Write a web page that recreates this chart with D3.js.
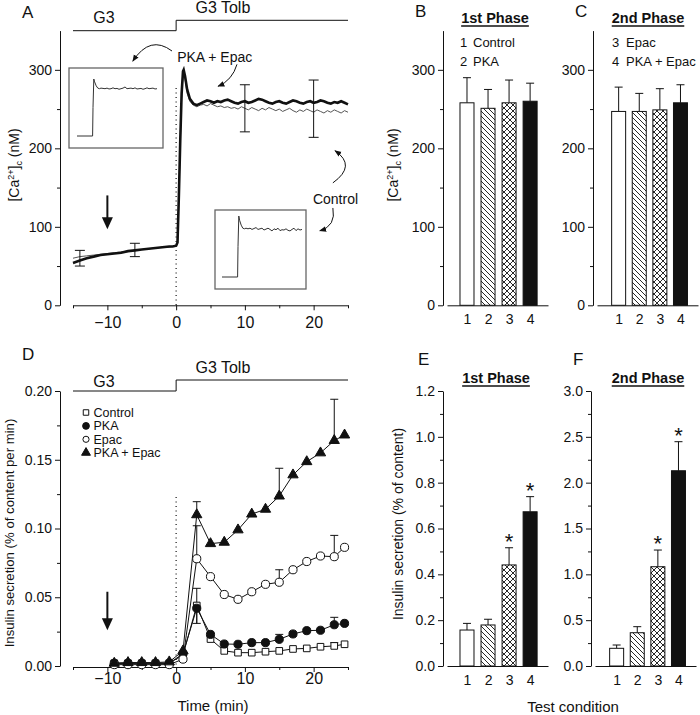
<!DOCTYPE html>
<html><head><meta charset="utf-8">
<script src="https://cdn.jsdelivr.net/npm/d3@7"></script>
<style>body{margin:0;background:#fff}</style>
</head><body><svg id="c" width="700" height="715"></svg>
<script>
// ---------------- DATA ----------------
// Panel A: [Ca2+]c traces (nM) vs time (min)
const caTime = [-15,-14,-13,-12,-11,-10,-9,-8,-7,-6,-5,-4,-3,-2,-1,-0.5,0,0.2,0.4,0.6,0.8,1.0,1.1,1.3,1.6,2.0,2.5,3.0,
  3.5,4,4.5,5,5.5,6,6.5,7,7.5,8,8.5,9,9.5,10,10.5,11,11.5,12,12.5,13,13.5,14,14.5,15,15.5,16,16.5,17,17.5,18,18.5,19,19.5,20,20.5,21,21.5,22,22.5,23,23.5,24,24.5,25];
const caPkaEpac = [54,57,60,62,64,65,66,67,69,70,71,72,73,74,75,75,76,80,140,210,270,298,300,292,275,263,257,255,
  257,259,261,260,258,260,259,261,262,260,258,257,259,260,258,259,261,263,262,260,258,257,259,260,258,257,259,261,260,258,257,259,260,258,259,261,260,258,257,259,258,260,258,256];
const caControl = [60,62,63,64,65,66,67,68,69,70,71,72,73,74,74,75,75,78,135,205,265,292,296,288,270,260,255,253,
  255,256,254,257,255,253,254,252,253,251,252,250,253,251,249,252,250,248,251,249,252,250,248,250,247,249,251,248,246,249,247,250,248,246,249,247,245,248,246,249,247,245,248,246];
const caErrTime = [-14,-6,10,20];
const caErrLow  = [50,62,221,214];
const caErrHigh = [70,79,281,287];

// Insets (normalised trace, arbitrary time units)
const insetTime = [0,1.95,2.0,2.1,2.2,2.4,2.6,2.8,3.0,3.25,3.5,3.75,4,4.25,4.5,4.75,5,5.25,5.5,5.75,6,6.25,6.5,6.75,7,7.25,7.5,7.75,8,8.25,8.5,8.75,9,9.25,9.5,9.75,10];
const insetPkaEpac = [0,0,0.5,1.0,0.95,0.88,0.84,0.83,0.84,0.835,0.83,0.84,0.825,0.83,0.845,0.83,0.835,0.82,0.83,0.84,0.86,0.83,0.835,0.84,0.83,0.845,0.825,0.83,0.835,0.82,0.83,0.845,0.83,0.835,0.84,0.825,0.83];
const insetControl = [0,0,0.5,1.0,0.93,0.85,0.80,0.79,0.80,0.79,0.80,0.78,0.795,0.81,0.78,0.79,0.80,0.77,0.785,0.80,0.78,0.755,0.79,0.775,0.80,0.76,0.775,0.77,0.79,0.765,0.755,0.78,0.80,0.76,0.79,0.77,0.78];

// Panels B, C: [Ca2+]c bars
const barCategories = [1,2,3,4];
const caPhase1 = [258,251,258,260];
const caPhase1ErrTop = [290,275,287,283];
const caPhase2 = [247,247,249,258];
const caPhase2ErrTop = [278,270,276,281];

// Panel D: insulin secretion (% of content per min)
const insTime = [-9,-7,-5,-3,-1,1,3,5,7,9,11,13,15,17,19,21,23,24.5];
const insControl = [0.002,0.002,0.002,0.002,0.002,0.008,0.044,0.0196,0.011,0.0097,0.0097,0.0104,0.011,0.0124,0.0128,0.014,0.0146,0.0158];
const insPKA     = [0.002,0.002,0.002,0.002,0.002,0.009,0.042,0.023,0.016,0.0158,0.017,0.017,0.0194,0.0233,0.0257,0.026,0.030,0.031];
const insEpac    = [0.001,0.001,0.001,0.001,0.001,0.005,0.078,0.065,0.052,0.0485,0.054,0.0594,0.0609,0.070,0.076,0.080,0.0795,0.0863];
const insPkaEpac = [0.002,0.0025,0.0025,0.0025,0.003,0.011,0.110,0.089,0.090,0.099,0.1105,0.114,0.1236,0.139,0.1486,0.155,0.164,0.168];
const insSeriesNames = ["Control","PKA","Epac","PKA + Epac"];
// error bars: [series index, time, low, high]
const insErrors = [[0,3,0.031,0.0565],[0,23,0.0146,0.017],[1,15,0.0194,0.023],[1,23,0.030,0.0354],
  [2,3,0.078,0.102],[2,15,0.0609,0.070],[2,23,0.0795,0.095],[3,3,0.110,0.1195],[3,15,0.1236,0.1438],[3,23,0.164,0.194]];

// Panels E, F: insulin secretion bars (% of content)
const insPhase1 = [0.157,0.179,0.441,0.673];
const insPhase1ErrTop = [0.186,0.204,0.516,0.739];
const insPhase2 = [0.193,0.363,1.083,2.13];
const insPhase2ErrTop = [0.229,0.429,1.265,2.447];
const significant = [false,false,true,true];

// Tick labels
const caTicks = [0,100,200,300], caMinor = [50,150,250];
const timeTicks = [-10,0,10,20], timeMinor = [-15,-5,5,15,25];
const insTicks = [0,0.05,0.10,0.15,0.20], insMinor = [0.025,0.075,0.125,0.175];
const e1Ticks = [0,0.2,0.4,0.6,0.8,1.0,1.2], e1Minor = [0.1,0.3,0.5,0.7,0.9,1.1];
const f1Ticks = [0,0.5,1.0,1.5,2.0,2.5,3.0], f1Minor = [0.25,0.75,1.25,1.75,2.25,2.75];

// ---------------- DRAWING ----------------
const F = '"Liberation Sans", Arial, Helvetica, sans-serif';
const svg = d3.select("#c").style("font-family", F);
const INK = "#111";

const defs = svg.append("defs");
const pd = defs.append("pattern").attr("id","diag").attr("patternUnits","userSpaceOnUse").attr("width",5).attr("height",5);
pd.append("rect").attr("width",5).attr("height",5).attr("fill","#fff");
pd.append("path").attr("d","M-1,-1L6,6M-1,4L1,6M4,-1L6,1").attr("stroke",INK).attr("stroke-width",0.9);
const pc = defs.append("pattern").attr("id","cross").attr("patternUnits","userSpaceOnUse").attr("width",6).attr("height",6);
pc.append("rect").attr("width",6).attr("height",6).attr("fill","#fff");
pc.append("path").attr("d","M-1,-1L7,7M-1,5L1,7M5,-1L7,1M7,-1L-1,7M1,-1L-1,1M7,5L5,7").attr("stroke",INK).attr("stroke-width",0.9);
defs.append("marker").attr("id","ah").attr("viewBox","0 0 10 10").attr("refX",9).attr("refY",5)
  .attr("markerWidth",7).attr("markerHeight",7).attr("orient","auto")
  .append("path").attr("d","M0,1L10,5L0,9z").attr("fill",INK);
const barFill = ["#fff","url(#diag)","url(#cross)",INK];

function styleAxis(g, fs){
  g.attr("font-family",F).attr("font-size",fs);
  g.selectAll("path,line").attr("stroke",INK);
  g.selectAll("text").attr("fill",INK);
}
function leftAxis(x0, scale, major, minor, fmt, fs){
  const g = svg.append("g").attr("transform",`translate(${x0},0)`);
  g.call(d3.axisLeft(scale).tickValues(major).tickFormat(fmt).tickSize(5).tickSizeOuter(0).tickPadding(3));
  styleAxis(g, fs);
  const m = svg.append("g").attr("transform",`translate(${x0},0)`);
  m.call(d3.axisLeft(scale).tickValues(minor).tickFormat("").tickSize(3).tickSizeOuter(0));
  m.select(".domain").remove(); styleAxis(m, fs);
}
function bottomAxis(y0, scale, major, minor, fs, baseline){
  const g = svg.append("g").attr("transform",`translate(0,${y0})`);
  g.call(d3.axisBottom(scale).tickValues(major).tickSize(5).tickSizeOuter(0));
  styleAxis(g, fs);
  g.selectAll(".tick text").attr("y", baseline - y0).attr("dy",0);
  const m = svg.append("g").attr("transform",`translate(0,${y0})`);
  m.call(d3.axisBottom(scale).tickValues(minor).tickFormat("").tickSize(3).tickSizeOuter(0));
  m.select(".domain").remove(); styleAxis(m, fs);
}
function label(x,y,txt,fs,opts={}){
  const t = svg.append("text").attr("x",x).attr("y",y).attr("fill",INK).style("font-size",fs+"px").text(txt);
  if(opts.anchor) t.attr("text-anchor",opts.anchor);
  if(opts.bold) t.style("font-weight","bold");
  return t;
}
function rotLabel(x,y,fs){
  return svg.append("text").attr("transform",`translate(${x},${y}) rotate(-90)`).attr("text-anchor","middle")
    .attr("fill",INK).style("font-size",fs+"px");
}
function caLabel(x,y){
  const t = rotLabel(x,y,14);
  t.append("tspan").text("[Ca");
  t.append("tspan").attr("dy",-5).style("font-size","9px").text("2+");
  t.append("tspan").attr("dy",5).text("]");
  t.append("tspan").attr("dy",3).style("font-size","9px").text("c");
  t.append("tspan").attr("dy",-3).text(" (nM)");
}
function underlinedTitle(cx, y, txt){
  const t = label(cx,y,txt,14.5,{anchor:"middle",bold:true});
  const w = t.node().getComputedTextLength();
  svg.append("line").attr("x1",cx-w/2).attr("x2",cx+w/2).attr("y1",y+3).attr("y2",y+3).attr("stroke",INK).attr("stroke-width",1.3);
}
function protocol(x, yLow, yHigh, gBase, tBase){
  svg.append("path").attr("fill","none").attr("stroke",INK).attr("stroke-width",1)
    .attr("d",`M${x(-15)},${yLow}H${x(0)}V${yHigh}H${x(25)}`);
  label(x(-10.5), gBase, "G3", 16, {anchor:"middle"});
  label(x(6.8), tBase, "G3 Tolb", 16, {anchor:"middle"});
}
function bigArrow(x, y, t, v1, v2){
  const xp = x(t), y1 = y(v1), y2 = y(v2);
  svg.append("line").attr("x1",xp).attr("x2",xp).attr("y1",y1).attr("y2",y2-10).attr("stroke",INK).attr("stroke-width",2);
  svg.append("path").attr("d",`M${xp-5.5},${y2-12}L${xp+5.5},${y2-12}L${xp},${y2}Z`).attr("fill",INK);
}

// ---------- Panel A ----------
const xA = d3.scaleLinear().domain([-15,25]).range([73,348]);
const yA = d3.scaleLinear().domain([0,350]).range([305.3,30.6]);
leftAxis(60, yA, caTicks, caMinor, d3.format("d"), 14);
bottomAxis(yA(0), xA, timeTicks, timeMinor, 16, 328);
caLabel(19,165);
label(22,18,"A",17);
protocol(xA, 30.7, 20.3, 23, 13);
svg.append("line").attr("x1",xA(0)).attr("x2",xA(0)).attr("y1",yA(277)).attr("y2",yA(0))
  .attr("stroke",INK).attr("stroke-dasharray","1.2,3.3").attr("stroke-width",1.2);
const lineA = d3.line().x((d,i)=>xA(caTime[i])).y(d=>yA(d));
svg.append("path").attr("d",lineA(caControl)).attr("fill","none").attr("stroke","#555").attr("stroke-width",1);
svg.append("path").attr("d",lineA(caPkaEpac)).attr("fill","none").attr("stroke",INK).attr("stroke-width",2.6);
caErrTime.forEach((t,i)=>{
  const xp=xA(t);
  svg.append("path").attr("fill","none").attr("stroke",INK).attr("stroke-width",1)
    .attr("d",`M${xp},${yA(caErrLow[i])}V${yA(caErrHigh[i])}M${xp-5},${yA(caErrLow[i])}H${xp+5}M${xp-5},${yA(caErrHigh[i])}H${xp+5}`);
});
bigArrow(xA, yA, -10, 140, 97);
// annotations
label(xA(0.15), yA(310), "PKA + Epac", 14);
label(xA(19.9), yA(129), "Control", 14);
function curve(x,y,a,c,b){
  svg.append("path").attr("fill","none").attr("stroke",INK).attr("stroke-width",1).attr("marker-end","url(#ah)")
    .attr("d",`M${x(a[0])},${y(a[1])}Q${x(c[0])},${y(c[1])} ${x(b[0])},${y(b[1])}`);
}
curve(xA,yA,[-0.6,324],[-3.8,345],[-6.3,311]);
curve(xA,yA,[8.85,307],[8.2,287],[6.1,279]);
curve(xA,yA,[22.8,156],[26.3,178],[23.1,197]);
curve(xA,yA,[22.8,124],[23.3,101],[20.9,95]);
// insets
function inset(bx0,by0,bx1,by1, tx0,tx1, y0,y1, vals){
  svg.append("rect").attr("x",bx0).attr("y",by0).attr("width",bx1-bx0).attr("height",by1-by0)
    .attr("fill","#fff").attr("stroke","#666").attr("stroke-width",1.3);
  const xi = d3.scaleLinear().domain([0,10]).range([tx0,tx1]);
  const yi = d3.scaleLinear().domain([0,1]).range([y0,y1]);
  svg.append("path").attr("fill","none").attr("stroke","#333").attr("stroke-width",1)
    .attr("d", d3.line().x((d,i)=>xi(insetTime[i])).y(d=>yi(d))(vals));
}
inset(69,68,163,148, 77,157, 136,79, insetPkaEpac);
inset(215,210,306,289, 222,302, 277,216, insetControl);

// ---------- Panels B, C ----------
const yB = yA;
function barPanel(axisX, xs, yS, ticks, minor, fmt, vals, errs, stars){
  leftAxis(axisX, yS, ticks, minor, fmt, 14);
  const base = yS(0);
  const g = svg.append("g").attr("transform",`translate(0,${base})`);
  g.call(d3.axisBottom(xs).tickValues(barCategories).tickFormat(d3.format("d")).tickSize(0).tickSizeOuter(0).tickPadding(0));
  styleAxis(g,14);
  g.selectAll(".tick text").attr("y",19).attr("dy",0);
  const bw = 14;
  barCategories.forEach((c,i)=>{
    const cx = xs(c);
    svg.append("path").attr("fill","none").attr("stroke",INK).attr("stroke-width",1)
      .attr("d",`M${cx},${yS(vals[i])}V${yS(errs[i])}M${cx-4},${yS(errs[i])}H${cx+4}`);
    svg.append("rect").attr("x",cx-bw/2).attr("y",yS(vals[i])).attr("width",bw).attr("height",base-yS(vals[i]))
      .attr("fill",barFill[i]).attr("stroke",INK).attr("stroke-width",1);
    if(stars && stars[i]) label(cx, yS(errs[i])+1, "*", 22, {anchor:"middle"});
  });
}
const xB = d3.scaleLinear().domain([0.05,4.85]).range([447,548]);
const xC = d3.scaleLinear().domain([-0.05,4.85]).range([597,698]);
barPanel(443, xB, yB, caTicks, caMinor, d3.format("d"), caPhase1, caPhase1ErrTop, null);
barPanel(593, xC, yB, caTicks, caMinor, d3.format("d"), caPhase2, caPhase2ErrTop, null);
caLabel(398,165);
label(415,17,"B",17); label(575,17,"C",17);
underlinedTitle(495,23,"1st Phase"); underlinedTitle(648,23,"2nd Phase");
label(460,47,"1",13); label(473,47,"Control",13);
label(460,66,"2",13); label(473,66,"PKA",13);
label(612,47,"3",13); label(626,47,"Epac",13);
label(612,66,"4",13); label(626,66,"PKA + Epac",13);

// ---------- Panel D ----------
const xD = xA.copy();
const yD = d3.scaleLinear().domain([0,0.20]).range([666,391]);
leftAxis(60, yD, insTicks, insMinor, d3.format(".2f"), 14);
bottomAxis(667, xD, timeTicks, timeMinor, 16, 684);
label(22,360,"D",17);
protocol(xD, 391, 380, 387, 373);
svg.append("line").attr("x1",xD(0)).attr("x2",xD(0)).attr("y1",yD(0.123)).attr("y2",yD(0))
  .attr("stroke",INK).attr("stroke-dasharray","1.2,3.3").attr("stroke-width",1.2);
bigArrow(xD, yD, -10, 0.054, 0.026);
const rotD = rotLabel(14,533,13.2); rotD.text("Insulin secretion (% of content per min)");
label(213,711,"Time (min)",15,{anchor:"middle"});
const insSeries = [insControl, insPKA, insEpac, insPkaEpac];
const lineD = d3.line().x((d,i)=>xD(insTime[i])).y(d=>yD(d));
insSeries.forEach(s=>{
  svg.append("path").attr("d",lineD(s)).attr("fill","none").attr("stroke",INK).attr("stroke-width",1);
});
insErrors.forEach(e=>{
  const xp = xD(e[1]);
  let d = `M${xp},${yD(e[2])}V${yD(e[3])}M${xp-4},${yD(e[3])}H${xp+4}`;
  if(e[0]===0 && e[1]===3) d += `M${xp},${yD(0.044)}V${yD(e[2])}M${xp-4},${yD(e[2])}H${xp+4}`;
  svg.append("path").attr("d",d).attr("fill","none").attr("stroke",INK).attr("stroke-width",1);
});
const symSquare = d3.symbol().type(d3.symbolSquare).size(44);
const symCircle = d3.symbol().type(d3.symbolCircle).size(52);
const symTri = d3.symbol().type(d3.symbolTriangle).size(46);
const markerStyle = [
  {sym:symSquare, fill:"#fff"},
  {sym:symCircle, fill:INK},
  {sym:symCircle, fill:"#fff"},
  {sym:symTri, fill:INK}
];
insSeries.forEach((s,k)=>{
  s.forEach((v,i)=>{
    svg.append("path").attr("d",markerStyle[k].sym()).attr("transform",`translate(${xD(insTime[i])},${yD(v)})`)
      .attr("fill",markerStyle[k].fill).attr("stroke",INK).attr("stroke-width",1);
  });
});
// legend
insSeriesNames.forEach((n,k)=>{
  const yb = 417 + k*13.4;
  const sz = [30,36,30,34][k];
  svg.append("path").attr("d",d3.symbol().type([d3.symbolSquare,d3.symbolCircle,d3.symbolCircle,d3.symbolTriangle][k]).size(sz)())
    .attr("transform",`translate(86,${yb-4.5})`)
    .attr("fill",markerStyle[k].fill).attr("stroke",INK).attr("stroke-width",1);
  label(93.5, yb, n, 12.5);
});

// ---------- Panels E, F ----------
const yE = d3.scaleLinear().domain([0,1.2]).range([666,391]);
const yF = d3.scaleLinear().domain([0,3.0]).range([666,391]);
const xE = xB.copy();
const xF = d3.scaleLinear().domain([-0.05,4.85]).range([595,696]);
barPanel(443, xE, yE, e1Ticks, e1Minor, d3.format(".1f"), insPhase1, insPhase1ErrTop, significant);
barPanel(591, xF, yF, f1Ticks, f1Minor, d3.format(".1f"), insPhase2, insPhase2ErrTop, significant);
const rotE = rotLabel(403,524,14); rotE.text("Insulin secretion (% of content)");
label(573,712,"Test condition",15,{anchor:"middle"});
label(418,365,"E",17); label(573,365,"F",17);
underlinedTitle(496,383,"1st Phase"); underlinedTitle(648,383,"2nd Phase");
</script></body></html>
